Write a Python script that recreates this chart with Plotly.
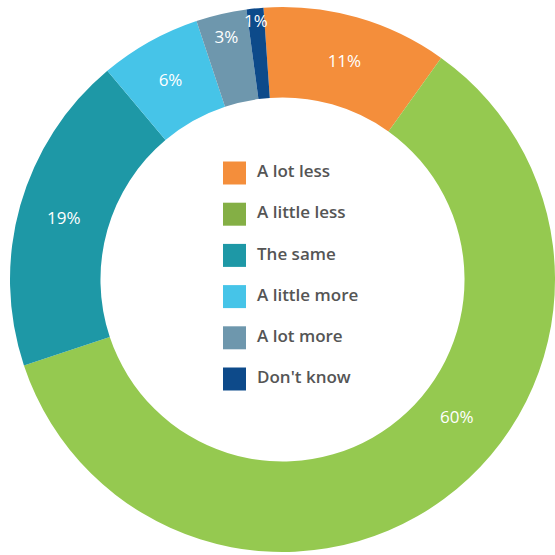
import math
import plotly.graph_objects as go

categories = ["A lot less", "A little less", "The same", "A little more", "A lot more", "Don't know"]
values = [11, 60, 19, 6, 3, 1]
labels_text = ["11%", "60%", "19%", "6%", "3%", "1%"]
slice_colors = ["#F48E3B", "#95C950", "#1E98A6", "#46C4E8", "#6E97AD", "#0D4A8A"]
legend_colors = ["#F48E3B", "#84AF45", "#1E98A6", "#46C4E8", "#6E97AD", "#0D4A8A"]
legend_rows = list(range(len(categories)))

W = H = 555
ROT = -4
# label placement tweaks (angle offset in degrees, radius in px) for labels placed as annotations
label_overrides = {1: (-15.5, 222), 5: (0, 260)}
LABEL_FONT = dict(color="white", size=17, family="Open Sans", weight=500)

dom_x = [10 / W, 1.0]
dom_y = [1 - 553.5 / H, 1 - 5.5 / H]
cx = (dom_x[0] + dom_x[1]) / 2 * W
cy = (1 - (dom_y[0] + dom_y[1]) / 2) * H

pie_text = [("" if i in label_overrides else t) for i, t in enumerate(labels_text)]

fig = go.Figure()

fig.add_trace(go.Pie(
    labels=categories,
    values=values,
    text=pie_text,
    textinfo="text",
    textposition="inside",
    insidetextorientation="horizontal",
    textfont=LABEL_FONT,
    marker=dict(colors=slice_colors, line=dict(width=0)),
    hole=0.668,
    sort=False,
    direction="clockwise",
    rotation=ROT,
    showlegend=False,
    domain=dict(x=dom_x, y=dom_y),
))

# custom legend in the hole
fig.add_trace(go.Scatter(
    x=[0] * len(categories),
    y=legend_rows,
    mode="markers",
    marker=dict(symbol="square", size=23, color=legend_colors, line=dict(width=0)),
    showlegend=False,
    hoverinfo="skip",
))
fig.add_trace(go.Scatter(
    x=[22.5] * len(categories),
    y=legend_rows,
    mode="text",
    text=categories,
    textposition="middle right",
    textfont=dict(color="#555555", size=17, family="Open Sans", weight=600),
    showlegend=False,
    hoverinfo="skip",
))

# labels placed along the ring from the data
total = sum(values)
cum = 0
annotations = []
for i, v in enumerate(values):
    mid = ROT + 360 * (cum + v / 2) / total
    cum += v
    if i in label_overrides:
        off, r = label_overrides[i]
        a = math.radians(mid + off)
        px = cx + r * math.sin(a)
        py = cy - r * math.cos(a)
        annotations.append(dict(
            x=px / W, y=1 - py / H, xref="paper", yref="paper",
            text=labels_text[i], showarrow=False, font=LABEL_FONT,
            xanchor="center", yanchor="middle",
        ))

row_px0 = 173.0
row_step = 41.2
fig.update_layout(
    width=W, height=H,
    margin=dict(l=0, r=0, t=0, b=0),
    paper_bgcolor="white", plot_bgcolor="rgba(0,0,0,0)",
    xaxis=dict(range=[-234.5, W - 234.5], visible=False, fixedrange=True),
    yaxis=dict(range=[(H - row_px0) / row_step, -row_px0 / row_step], visible=False, fixedrange=True),
    annotations=annotations,
)

fig.write_html("out.html")
